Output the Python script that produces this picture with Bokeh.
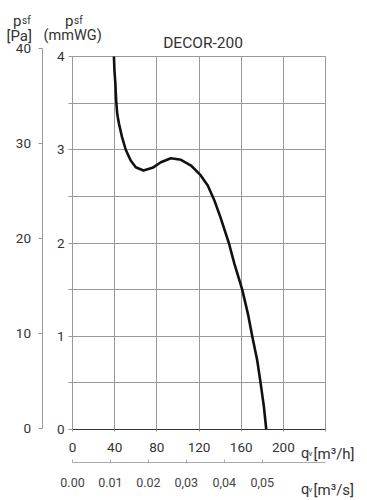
from bokeh.plotting import figure
from bokeh.models import Range1d, LinearAxis, FixedTicker, Label, Grid
from bokeh.embed import file_html
from bokeh.resources import INLINE

# ---- data ----
flow_m3h = [39.3, 39.8, 40.7, 41.1, 41.6, 42.4, 44.1, 47.0, 50.5, 55.2, 60.0, 67.3,
            75.9, 83.8, 93.3, 102.9, 112.4, 121.0, 128.3, 134.6, 140.3, 148.3, 153.6,
            161.0, 166.4, 170.5, 175.2, 178.4, 181.6, 183.8]
pressure_mmwg = [4.0, 3.85, 3.707, 3.60, 3.499, 3.386, 3.278, 3.135, 3.0, 2.885, 2.813,
                 2.777, 2.806, 2.866, 2.909, 2.892, 2.831, 2.734, 2.617, 2.456, 2.277,
                 2.0, 1.777, 1.5, 1.24, 1.0, 0.742, 0.5, 0.24, 0.0]

x_ticks_m3h = [0, 40, 80, 120, 160, 200, 240]
x_labels_m3h = ["0", "40", "80", "120", "160", "200", ""]
x_ticks_m3s = [0.0, 0.01, 0.02, 0.03, 0.04, 0.05]
x_labels_m3s = ["0.00", "0.01", "0.02", "0,03", "0,04", "0,05"]
y_ticks_mmwg = [0, 0.5, 1, 1.5, 2, 2.5, 3, 3.5, 4]
y_labels_mmwg = ["0", "", "1", "", "2", "", "3", "", "4"]
y_ticks_pa = [0, 10, 20, 30, 40]
y_labels_pa = ["0", "10", "20", "30", "40"]
title_text = "DECOR-200"

FONT = "Roboto"
TXT = "#333333"
GRID = "#999999"
W, H = 367, 500

# pixel -> data helpers (plot area: x 0..240 at px 72..325, y 0..4 at px 429..56)
def dx(px):
    return (px - 72) * 40 / 42.17

def dy(py):
    return (429 - py) / 93.25

def dpa(py):
    return (428 - py) / 9.5

def dm3s(px):
    return dx(px) / 3600

p = figure(width=W, height=H,
           x_range=Range1d(dx(0), dx(W)), y_range=Range1d(dy(H), dy(0)),
           min_border_left=0, min_border_right=0, min_border_top=0, min_border_bottom=0,
           output_backend="svg", toolbar_location=None, title=None,
           x_axis_location=None, y_axis_location=None)
p.background_fill_color = "white"
p.border_fill_color = "white"
p.outline_line_color = None

p.extra_y_ranges = {"pa": Range1d(dpa(H), dpa(0))}
p.extra_x_ranges = {"m3s": Range1d(dm3s(0), dm3s(W))}

def style(ax, size="13px", color=TXT, line=GRID):
    ax.minor_tick_line_color = None
    ax.axis_line_color = line
    ax.major_tick_line_color = line
    ax.major_label_text_font = FONT
    ax.major_label_text_font_size = size
    ax.major_label_text_color = color

# mmWG axis
ya = LinearAxis(ticker=FixedTicker(ticks=y_ticks_mmwg), bounds=(0, 4), fixed_location=0)
ya.major_label_overrides = {t: l for t, l in zip(y_ticks_mmwg, y_labels_mmwg)}
ya.major_tick_out = 4
ya.major_tick_in = 0
ya.major_label_standoff = 4
style(ya, size="13.5px")
p.add_layout(ya, "left")

# Pa axis
pa = LinearAxis(y_range_name="pa", ticker=FixedTicker(ticks=y_ticks_pa), bounds=(0, 40),
                fixed_location=dx(41.5))
pa.major_label_overrides = {t: l for t, l in zip(y_ticks_pa, y_labels_pa)}
pa.major_tick_out = 4
pa.major_tick_in = 0
pa.major_label_standoff = 7
style(pa, size="13.5px")
p.add_layout(pa, "left")

# m3/h axis
xa = LinearAxis(ticker=FixedTicker(ticks=x_ticks_m3h), bounds=(0, 240), fixed_location=0)
xa.major_label_overrides = {t: l for t, l in zip(x_ticks_m3h, x_labels_m3h)}
xa.major_tick_out = 2
xa.major_tick_in = 0
xa.major_label_standoff = 11
style(xa, size="13.5px", line="#333333")
xa.major_tick_line_color = GRID
p.add_layout(xa, "below")

# m3/s axis
xs = LinearAxis(x_range_name="m3s", ticker=FixedTicker(ticks=x_ticks_m3s),
                bounds=(0, 240 / 3600), fixed_location=dy(462))
xs.major_label_overrides = {t: l for t, l in zip(x_ticks_m3s, x_labels_m3s)}
xs.major_tick_out = 0
xs.major_tick_in = 3
xs.major_label_standoff = 15
style(xs, size="12.5px", color="#444444", line="#aaaaaa")
p.add_layout(xs, "below")

# grid
p.xgrid.visible = False
p.ygrid.visible = False
gx = Grid(dimension=0, ticker=FixedTicker(ticks=x_ticks_m3h), bounds=(0, 240),
          cross_bounds=(0, 4), grid_line_color=GRID)
gy = Grid(dimension=1, ticker=FixedTicker(ticks=y_ticks_mmwg), bounds=(0, 4),
          cross_bounds=(0, 240), grid_line_color=GRID)
p.add_layout(gx)
p.add_layout(gy)

p.line(flow_m3h, pressure_mmwg, line_color="#111111", line_width=2.6, line_join="round")

def lab(text, px, py, size, align="left", color=TXT):
    p.add_layout(Label(x=dx(px), y=dy(py), text=text, text_font=FONT,
                       text_font_size=size, text_color=color, text_align=align,
                       text_baseline="alphabetic"))

lab(title_text, 202.5, 42, "15.5px", align="center")
# header p_sf [Pa]
lab("p", 12.5, 20, "15px")
lab("sf", 21.5, 20, "10px")
lab("[Pa]", 6, 35, "15px")
# header p_sf (mmWG)
lab("p", 64.5, 20, "15px")
lab("sf", 73.5, 20, "10px")
lab("(mmWG)", 43, 35, "14.5px")
# q_v labels
lab("q", 300.5, 453, "14.5px")
lab("v", 308, 453, "8px")
lab("[m\u00b3/h]", 313, 453, "15px")
lab("q", 300.5, 489, "14.5px")
lab("v", 308, 489, "8px")
lab("[m\u00b3/s]", 313, 489, "15px")

open("out.html", "w").write(file_html(p, INLINE))
